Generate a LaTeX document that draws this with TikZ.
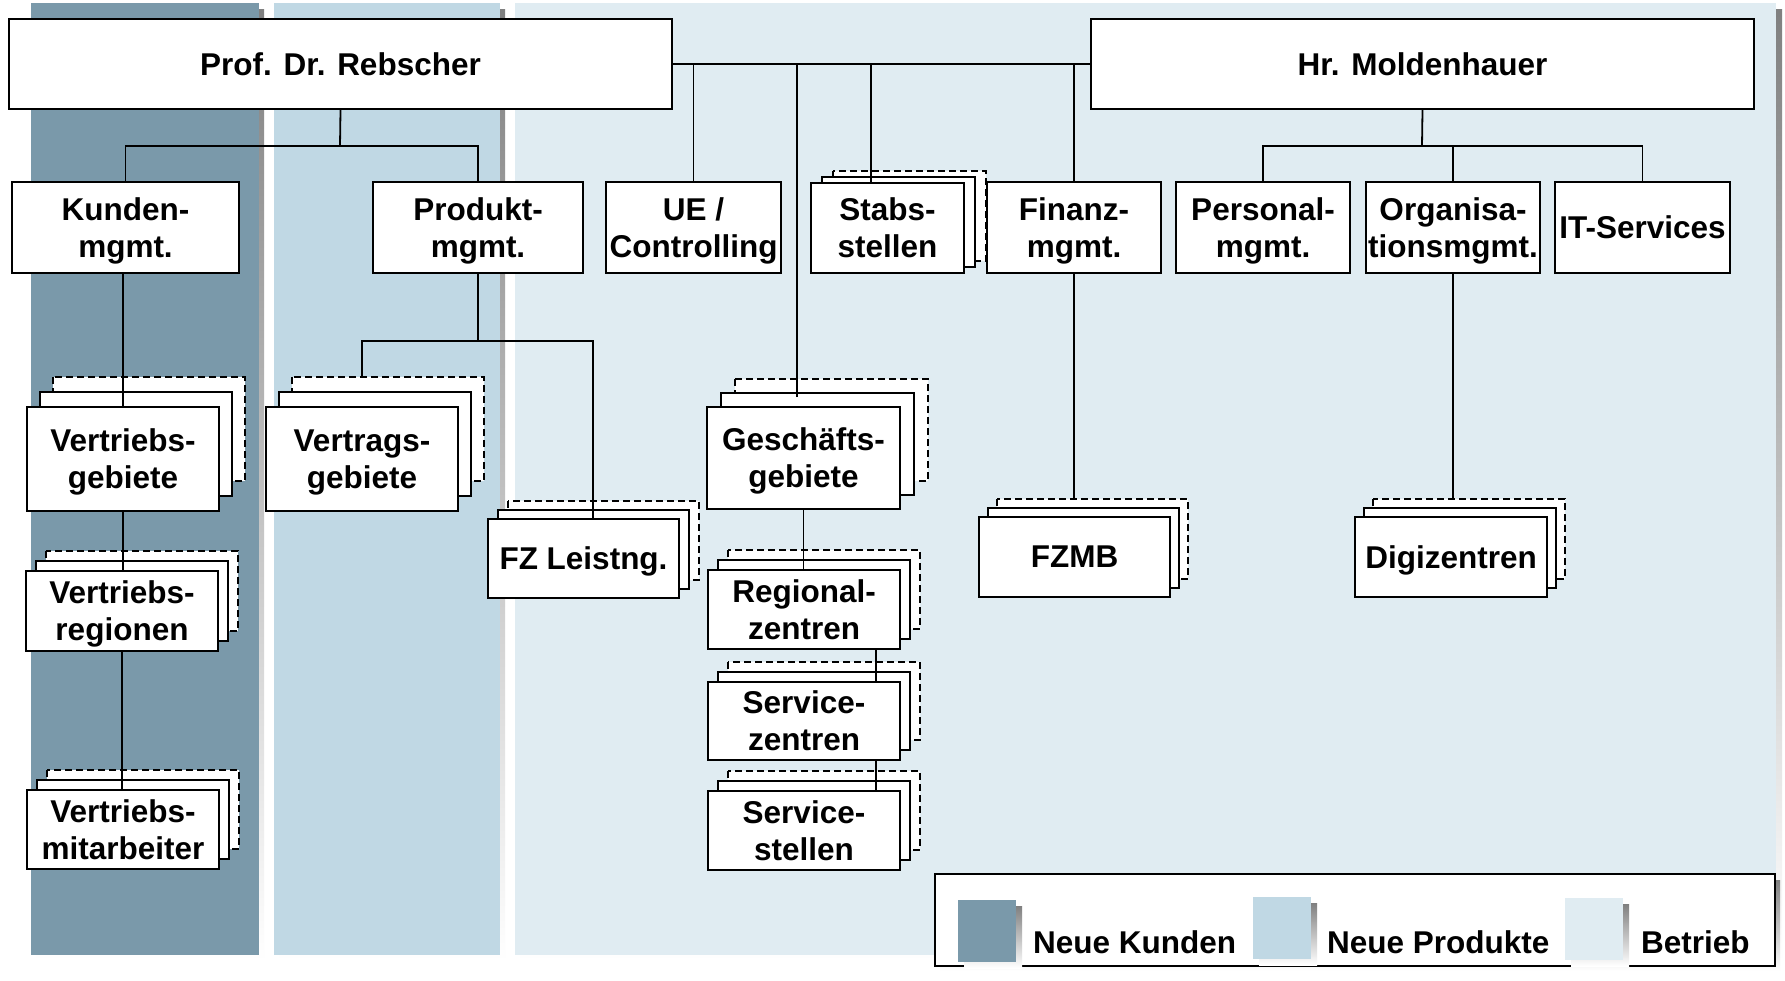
\documentclass[tikz,border=0pt]{standalone}
\usepackage{fontspec}
\setmainfont{Liberation Sans}
\usetikzlibrary{calc}
\definecolor{bandA}{RGB}{122,153,170}
\definecolor{bandB}{RGB}{192,216,228}
\definecolor{bandC}{RGB}{224,236,242}
\definecolor{shade}{RGB}{156,156,156}
\tikzset{
  box/.style={draw=black, line width=2pt, fill=white, inner sep=0pt, align=center,
    font=\fontsize{31.5}{37}\selectfont\bfseries, text depth=-3pt},
  layer/.style={draw=black, line width=2pt, fill=white},
  dlayer/.style={layer, dash pattern=on 7pt off 4pt},
  conn/.style={draw=black, line width=1.8pt},
  lbl/.style={font=\fontsize{31.5}{37}\selectfont\bfseries, anchor=base west, inner sep=0pt},
  swatch/.style={inner sep=0pt, minimum width=58, minimum height=62},
}
\newcommand\stk[8]{%
  \draw[dlayer] ({#2+2*#6},{#3-2*#7}) rectangle ({#4+2*#6},{#5-2*#7});
  \draw[layer] ({#2+#6},{#3-#7}) rectangle ({#4+#6},{#5-#7});
  \node[box, minimum width={#4-#2}, minimum height={#5-#3}] (#1) at ({(#2+#4)/2},{(#3+#5)/2}) {#8};
}
\newcommand\bx[6]{%
  \node[box, minimum width={#4-#2}, minimum height={#5-#3}] (#1) at ({(#2+#4)/2},{(#3+#5)/2}) {#6};
}
\begin{document}
\begin{tikzpicture}[x=1pt, y=-1pt]
\useasboundingbox (0,0) rectangle (1785,980);
\fill[white] (0,0) rectangle (1785,980);
% bands
\fill[shade] (36,9) rectangle (264,961);
\fill[bandA] (31,3) rectangle (259,955);
\fill[shade] (279,9) rectangle (505,961);
\fill[bandB] (274,3) rectangle (500,955);
\fill[shade] (520,9) rectangle (1782,961);
\fill[bandC] (515,3) rectangle (1776,955);

% coordinates
\coordinate (pb) at (340,146);
\coordinate (mb) at (1422,146);
\coordinate (pdb) at (478,341);
\coordinate (gx) at (797,397);
\coordinate (sx) at (871,0);
\coordinate (rx) at (876,0);
\coordinate (vtop) at (362,376);
\coordinate (ftop) at (593,519);

% top boxes
\bx{prof}{9}{19}{672}{109}{Prof. Dr. Rebscher}
\bx{mold}{1091}{19}{1754}{109}{Hr. Moldenhauer}

% second row
\bx{kunden}{12}{182}{239}{273}{Kunden-\\mgmt.}
\bx{produkt}{373}{182}{583}{273}{Produkt-\\mgmt.}
\bx{ue}{606}{182}{781}{273}{UE /\\Controlling}
\bx{finanz}{987}{182}{1161}{273}{Finanz-\\mgmt.}
\bx{personal}{1176}{182}{1350}{273}{Personal-\\mgmt.}
\bx{orga}{1366}{182}{1540}{273}{Organisa-\\tionsmgmt.}
\bx{it}{1555}{182}{1730}{273}{IT-Services}

% connectors behind
\draw[conn] (prof.east) -- (mold.west);
\draw[conn] (ue.north) -- (ue.north |- prof.east);
\draw[conn] (finanz.north) -- (finanz.north |- prof.east);
\draw[conn] (prof.south) -- (pb);
\draw[conn] (kunden.north) |- (pb) -| (produkt.north);
\draw[conn] (mold.south) -- (mb);
\draw[conn] (personal.north) |- (mb) -| (it.north);
\draw[conn] (orga.north) -- (orga.north |- mb);
\draw[conn] (finanz.south) -- (finanz.south |- 0,517);
\draw[conn] (orga.south) -- (orga.south |- 0,517);

% stacks
\stk{stabs}{811}{183}{964}{273}{11}{6}{Stabs-\\stellen}
\stk{vgeb}{27}{407}{219}{511}{13}{15}{Vertriebs-\\gebiete}
\stk{vreg}{26}{571}{218}{651}{10}{10}{Vertriebs-\\regionen}
\stk{vmit}{27}{790}{219}{869}{10}{10}{Vertriebs-\\mitarbeiter}
\stk{vertrag}{266}{407}{458}{511}{13}{15}{Vertrags-\\gebiete}
\stk{fzl}{488}{519}{679}{598}{10}{9}{FZ Leistng.}
\stk{gesch}{707}{407}{900}{509}{14}{14}{Geschäfts-\\gebiete}
\stk{reg}{708}{570}{900}{649}{10}{10}{Regional-\\zentren}
\stk{serz}{708}{682}{900}{760}{10}{10}{Service-\\zentren}
\stk{sers}{708}{791}{900}{870}{10}{10}{Service-\\stellen}
\stk{fzmb}{979}{517}{1170}{597}{9}{9}{FZMB}
\stk{digi}{1355}{517}{1547}{597}{9}{9}{Digizentren}

% connectors on top
\draw[conn] (kunden.south -| vgeb.north) -- (vgeb.north);
\draw[conn] (vgeb.south) -- (vgeb.south |- vreg.north);
\draw[conn] (vreg.south) -- (vreg.south |- vmit.north);
\draw[conn] (produkt.south) -- (pdb);
\draw[conn] (vtop) |- (pdb) -| (ftop);
\draw[conn] (stabs.north -| sx) -- (sx |- prof.east);
\draw[conn] (gx) -- (gx |- prof.east);
\draw[conn] (gesch.south) -- (gesch.south |- reg.north);
\draw[conn] (reg.south -| rx) -- (serz.north -| rx);
\draw[conn] (serz.south -| rx) -- (sers.north -| rx);

% legend
\fill[shade] (940,880) rectangle (1780,971);
\node[draw=black, line width=1.5pt, fill=white, inner sep=0pt, minimum width=840, minimum height=92] (legend) at (1355,920) {};
\fill[shade] (964,906) rectangle (1022,968);
\node[swatch, fill=bandA] (swA) at (987,931) {};
\fill[shade] (1259,903) rectangle (1317,965);
\node[swatch, fill=bandB] (swB) at (1282,928) {};
\fill[shade] (1571,904) rectangle (1629,966);
\node[swatch, fill=bandC] (swC) at (1594,929) {};
\node[lbl] (tA) at (1033,953) {Neue Kunden};
\node[lbl] (tB) at (1327,953) {Neue Produkte};
\node[lbl] (tC) at (1641,953) {Betrieb};
\end{tikzpicture}
\end{document}
